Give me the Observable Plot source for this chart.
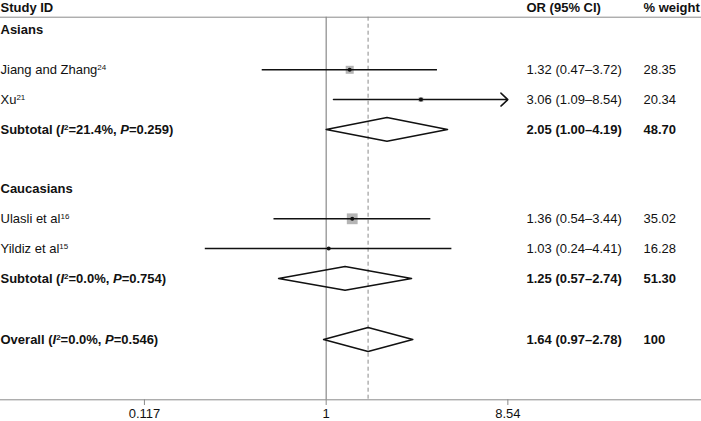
<!DOCTYPE html>
<html>
<head>
<meta charset="utf-8">
<script src="https://cdn.jsdelivr.net/npm/d3@7"></script>
<script src="https://cdn.jsdelivr.net/npm/@observablehq/plot@0.6"></script>
<style>
  html, body { margin: 0; padding: 0; background: #fff; }
  #chart svg { display: block; }
</style>
</head>
<body>
<div id="chart"></div>
<script>
// ---- data ----
const headers = ["Study ID", "OR (95% CI)", "% weight"];
const groupLabels = ["Asians", "Caucasians"];
const groupRows = [-1.33, 4];

const studyLabels = ["Jiang and Zhang^24", "Xu^21", "Ulasli et al^16", "Yildiz et al^15"];
const studyRows = [0, 1, 5, 6];
const studyOR = [1.32, 3.06, 1.36, 1.03];
const studyLo = [0.47, 1.09, 0.54, 0.24];
const studyHi = [3.72, 8.54, 3.44, 4.41];
const studyWeight = [28.35, 20.34, 35.02, 16.28];

const poolLabels = ["Subtotal (*I*^2=21.4%, *P*=0.259)", "Subtotal (*I*^2=0.0%, *P*=0.754)", "Overall (*I*^2=0.0%, *P*=0.546)"];
const poolRows = [2, 7, 9.05];
const poolOR = [2.05, 1.25, 1.64];
const poolLo = [1.00, 0.57, 0.97];
const poolHi = [4.19, 2.74, 2.78];
const poolWeight = [48.70, 51.30, 100];

const xTicks = [0.117, 1, 8.54];
const xTickLabels = ["0.117", "1", "8.54"];

// ---- layout ----
const W = 701, H = 421;
const rowTop = -2.3255, rowAxis = 11.074;
const tickEndRow = 11.265, tickLabelRow = 11.55;
const headerRow = -2.09, headerLineRow = -1.765;
const colOR = 526, colW = 643;
const diamondHalf = 0.4;
const axisMax = xTicks[xTicks.length - 1];

const fmt2 = d => d.toFixed(2);
const ciText = (o, l, h) => `${fmt2(o)} (${fmt2(l)}–${fmt2(h)})`;

const studies = studyLabels.map((label, i) => ({
  label, row: studyRows[i], or: studyOR[i], lo: studyLo[i], hi: studyHi[i], w: studyWeight[i],
  ci: ciText(studyOR[i], studyLo[i], studyHi[i]), wt: fmt2(studyWeight[i])
}));
const pools = poolLabels.map((label, i) => ({
  label, row: poolRows[i], or: poolOR[i], lo: poolLo[i], hi: poolHi[i],
  ci: ciText(poolOR[i], poolLo[i], poolHi[i]), wt: poolWeight[i] === 100 ? "100" : fmt2(poolWeight[i])
}));
const groups = groupLabels.map((label, i) => ({label, row: groupRows[i]}));
const ticks = xTicks.map((v, i) => ({v, label: xTickLabels[i]}));
const diamonds = pools.flatMap((p, i) => [
  {x: p.lo, y: p.row, z: i},
  {x: p.or, y: p.row - diamondHalf, z: i},
  {x: p.hi, y: p.row, z: i},
  {x: p.or, y: p.row + diamondHalf, z: i},
  {x: p.lo, y: p.row, z: i}
]);
const clipped = studies.filter(d => d.hi >= axisMax);
const unclipped = studies.filter(d => d.hi < axisMax);

const ink = "#111";
const gray = "#8a8a8a";

const plot = Plot.plot({
  width: W,
  height: H,
  marginTop: 0, marginLeft: 0, marginRight: 0, marginBottom: H - 399.3,
  style: {fontFamily: "'Liberation Sans', Arial, sans-serif", fontSize: "13px", color: ink, background: "#fff"},
  x: {type: "log", domain: [0.02139, 84.0], axis: null},
  y: {type: "linear", domain: [rowTop, rowAxis], reverse: true, axis: null},
  r: {type: "linear", domain: [16, 35.02], range: [1.6, 6.1]},
  marks: [
    // header rule & axis line
    Plot.ruleY([headerLineRow], {stroke: gray, strokeWidth: 1}),
    Plot.ruleY([rowAxis], {stroke: gray, strokeWidth: 1}),
    // null line at OR = 1
    Plot.ruleX([1], {y1: headerLineRow, y2: rowAxis, stroke: gray, strokeWidth: 1.2}),
    // overall estimate dashed line
    Plot.ruleX([poolOR[2]], {y1: headerLineRow, y2: rowAxis, stroke: gray, strokeWidth: 1, strokeDasharray: "4,3"}),
    // weight boxes
    Plot.dot(studies, {x: "or", y: "row", r: "w", symbol: "square", fill: "#b5b5b5", stroke: "none"}),
    // confidence intervals
    Plot.ruleY(unclipped, {x1: "lo", x2: "hi", y: "row", stroke: ink, strokeWidth: 1.5}),
    Plot.arrow(clipped, {x1: "lo", x2: d => Math.min(d.hi, axisMax), y1: "row", y2: "row",
      stroke: ink, strokeWidth: 1.5, headLength: 9.5, headAngle: 86}),
    // point estimates
    Plot.dot(studies, {x: "or", y: "row", r: 2, fill: ink, stroke: "none"}),
    // pooled diamonds
    Plot.line(diamonds, {x: "x", y: "y", z: "z", stroke: ink, strokeWidth: 1.5, fill: "none", curve: "linear"}),
    // x axis ticks and labels
    Plot.ruleX(ticks, {x: "v", y1: rowAxis, y2: tickEndRow, stroke: gray, strokeWidth: 1}),
    Plot.text(ticks, {x: "v", y: tickLabelRow, text: "label", fill: ink}),
    // header texts
    Plot.text([headers[0]], {frameAnchor: "left", y: [headerRow], text: d => d, textAnchor: "start", fontWeight: "bold", fill: ink}),
    Plot.text([headers[1]], {frameAnchor: "left", dx: colOR, y: [headerRow], text: d => d, textAnchor: "start", fontWeight: "bold", fill: ink}),
    Plot.text([headers[2]], {frameAnchor: "left", dx: colW, y: [headerRow], text: d => d, textAnchor: "start", fontWeight: "bold", fill: ink}),
    // group labels
    Plot.text(groups, {frameAnchor: "left", y: "row", text: "label", textAnchor: "start", fontWeight: "bold", fill: ink}),
    // study rows
    Plot.text(studies, {frameAnchor: "left", y: "row", text: "label", textAnchor: "start", fill: ink}),
    Plot.text(studies, {frameAnchor: "left", dx: colOR, y: "row", text: "ci", textAnchor: "start", fill: ink}),
    Plot.text(studies, {frameAnchor: "left", dx: colW, y: "row", text: "wt", textAnchor: "start", fill: ink}),
    // pooled rows
    Plot.text(pools, {frameAnchor: "left", y: "row", text: "label", textAnchor: "start", fontWeight: "bold", fill: ink}),
    Plot.text(pools, {frameAnchor: "left", dx: colOR, y: "row", text: "ci", textAnchor: "start", fontWeight: "bold", fill: ink}),
    Plot.text(pools, {frameAnchor: "left", dx: colW, y: "row", text: "wt", textAnchor: "start", fontWeight: "bold", fill: ink})
  ]
});

// rich text: *italic* and ^superscript
const NS = "http://www.w3.org/2000/svg";
plot.querySelectorAll("text").forEach(t => {
  const s = t.textContent;
  if (!/[\^*]/.test(s)) return;
  const parts = s.split(/(\*[^*]+\*|\^\d+)/).filter(p => p.length);
  while (t.firstChild) t.removeChild(t.firstChild);
  for (const p of parts) {
    const ts = document.createElementNS(NS, "tspan");
    if (p.startsWith("*")) {
      ts.textContent = p.slice(1, -1);
      ts.setAttribute("font-style", "italic");
    } else if (p.startsWith("^")) {
      ts.textContent = p.slice(1);
      ts.setAttribute("font-size", "8px");
      ts.setAttribute("baseline-shift", "4.5px");
    } else {
      ts.textContent = p;
    }
    t.appendChild(ts);
  }
});

document.getElementById("chart").appendChild(plot);
</script>
</body>
</html>
